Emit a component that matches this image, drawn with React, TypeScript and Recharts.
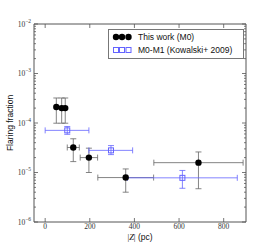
import React from 'react';
import { ScatterChart, Scatter, XAxis, YAxis, ErrorBar, ReferenceArea } from 'recharts';

// this work (M0)
const workZ = [50, 74, 90, 126, 196, 361, 687];
const workZErr = [0, 0, 0, 27, 39, 125, 200];
const workFrac = [2.1e-4, 2.0e-4, 2.0e-4, 3.2e-5, 2.0e-5, 7.9e-6, 1.58e-5];
const workLo = [9.9e-5, 9.9e-5, 9.9e-5, 1.66e-5, 1.0e-5, 4.0e-6, 4.7e-6];
const workHi = [3.2e-4, 3.2e-4, 3.2e-4, 4.8e-5, 3.1e-5, 1.18e-5, 2.6e-5];

// Kowalski+ 2009 (M0-M1)
const kowZ = [99, 295, 615];
const kowZLo = [0, 196, 369];
const kowZHi = [196, 392, 861];
const kowFrac = [7.1e-5, 2.8e-5, 7.8e-6];
const kowLo = [5.9e-5, 2.3e-5, 4.8e-6];
const kowHi = [8.5e-5, 3.5e-5, 1.1e-5];

const xTicks = [0, 200, 400, 600, 800];
const decades = [-6, -5, -4, -3, -2];

const W = 274;
const H = 247;
const LEFT = 34;
const TOP = 24;
const RIGHT = 28;
const BOTTOM = 25;
const PW = W - LEFT - RIGHT;
const PH = H - TOP - BOTTOM;

const BLUE = '#6464ff';
const GREY = '#555';
const BAR = '#666';

const yTicks: number[] = [];
decades.forEach((d) => {
  if (d === -2) {
    yTicks.push(1e-2);
    return;
  }
  for (let m = 1; m <= 9; m++) yTicks.push(+(m * Math.pow(10, d)).toPrecision(3));
});

const workData = workZ.map((z, i) => ({
  z,
  frac: workFrac[i],
  ex: [workZErr[i], workZErr[i]],
  ey: [workFrac[i] - workLo[i], workHi[i] - workFrac[i]],
}));

const kowData = kowZ.map((z, i) => ({
  z,
  frac: kowFrac[i],
  ex: [z - kowZLo[i], kowZHi[i] - z],
  ey: [kowFrac[i] - kowLo[i], kowHi[i] - kowFrac[i]],
}));

const serif = '"Liberation Serif", "DejaVu Serif", serif';
const sans = '"Liberation Sans", Arial, sans-serif';

const XTick = (props: any) => {
  const { x, y, payload } = props;
  const base = TOP + PH;
  return (
    <g>
      <line x1={x} x2={x} y1={base} y2={base - 4} stroke={GREY} strokeWidth={0.8} />
      <line x1={x} x2={x} y1={TOP} y2={TOP + 4} stroke={GREY} strokeWidth={0.8} />
      <text x={x} y={y} dy="0.71em" textAnchor="middle" fontFamily={serif} fontSize={7.5} fill="#333">
        {payload.value}
      </text>
    </g>
  );
};

const YTick = (props: any) => {
  const { x, y, payload } = props;
  const v = payload.value;
  const exp = Math.round(Math.log10(v));
  const major = Math.abs(Math.log10(v) - exp) < 1e-6;
  const len = major ? 4 : 2;
  return (
    <g>
      <line x1={LEFT} x2={LEFT + len} y1={y} y2={y} stroke={GREY} strokeWidth={0.8} />
      <line x1={LEFT + PW} x2={LEFT + PW - len} y1={y} y2={y} stroke={GREY} strokeWidth={0.8} />
      {major && (
        <text x={x} y={y} dy="0.35em" textAnchor="end" fontFamily={serif} fontSize={7.5} fill="#333">
          <tspan>10</tspan>
          <tspan dy={-4} fontSize={5.5}>{'\u2212' + Math.abs(exp)}</tspan>
        </text>
      )}
    </g>
  );
};

const Dot = (props: any) => {
  const { cx, cy } = props;
  return <circle cx={cx} cy={cy} r={3.2} fill="#000" />;
};

const Square = (props: any) => {
  const { cx, cy } = props;
  return <rect x={cx - 2.5} y={cy - 2.5} width={5} height={5} fill="none" stroke={BLUE} strokeWidth={1} />;
};

const LegendBox = () => (
  <div
    style={{
      position: 'absolute',
      left: 108,
      top: 29,
      width: 134,
      height: 28,
      border: '1px solid #777',
      background: '#fff',
      fontFamily: sans,
      fontSize: 8.5,
      color: '#111',
    }}
  >
    <svg width={30} height={28} style={{ position: 'absolute', left: 0, top: 0 }}>
      {[7, 13, 19.5].map((cx) => (
        <circle key={cx} cx={cx} cy={7} r={3.2} fill="#000" />
      ))}
      {[7, 13, 19.5].map((cx) => (
        <rect key={cx} x={cx - 2.5} y={17.5} width={5} height={5} fill="none" stroke={BLUE} />
      ))}
    </svg>
    <div style={{ position: 'absolute', left: 29, top: 1.5, whiteSpace: 'nowrap' }}>This work (M0)</div>
    <div style={{ position: 'absolute', left: 29, top: 14.5, whiteSpace: 'nowrap' }}>M0-M1 (Kowalski+ 2009)</div>
  </div>
);

export default function App() {
  return (
    <div style={{ position: 'absolute', left: 0, top: 0, width: W, height: H, background: '#fff' }}>
      <ScatterChart width={W} height={H} margin={{ top: TOP, right: RIGHT, bottom: 0, left: 0 }}>
        <XAxis
          type="number"
          dataKey="z"
          domain={[-50, 900]}
          ticks={xTicks}
          interval={0}
          height={BOTTOM}
          tickSize={0}
          tickMargin={2}
          axisLine={false}
          tick={<XTick />}
          allowDataOverflow
        />
        <YAxis
          type="number"
          dataKey="frac"
          scale="log"
          domain={[1e-6, 1e-2]}
          ticks={yTicks}
          interval={0}
          width={LEFT}
          tickSize={0}
          tickMargin={3}
          axisLine={false}
          tick={<YTick />}
          allowDataOverflow
        />
        <ReferenceArea x1={-50} x2={900} y1={1e-6} y2={1e-2} fill="none" stroke={GREY} strokeWidth={1} ifOverflow="visible" />
        <Scatter data={workData} shape={<Dot />} isAnimationActive={false}>
          <ErrorBar dataKey="ex" direction="x" stroke={BAR} strokeWidth={0.8} width={3} />
          <ErrorBar dataKey="ey" direction="y" stroke={BAR} strokeWidth={0.8} width={3} />
        </Scatter>
        <Scatter data={kowData} shape={<Square />} isAnimationActive={false}>
          <ErrorBar dataKey="ex" direction="x" stroke={BLUE} strokeWidth={0.8} width={3} />
          <ErrorBar dataKey="ey" direction="y" stroke={BLUE} strokeWidth={0.8} width={3} />
        </Scatter>
      </ScatterChart>
      <div
        style={{
          position: 'absolute',
          left: 10,
          top: TOP + PH / 2,
          transform: 'translate(-50%, -50%) rotate(-90deg)',
          fontFamily: sans,
          fontSize: 8.5,
          whiteSpace: 'nowrap',
          color: '#111',
        }}
      >
        Flaring fraction
      </div>
      <div
        style={{
          position: 'absolute',
          left: LEFT + PW / 2,
          top: 232,
          transform: 'translateX(-50%)',
          fontSize: 8.5,
          whiteSpace: 'nowrap',
          color: '#111',
        }}
      >
        <span style={{ fontFamily: serif }}>|<i>Z</i>|</span>
        <span style={{ fontFamily: sans }}> (pc)</span>
      </div>
      <LegendBox />
    </div>
  );
}
